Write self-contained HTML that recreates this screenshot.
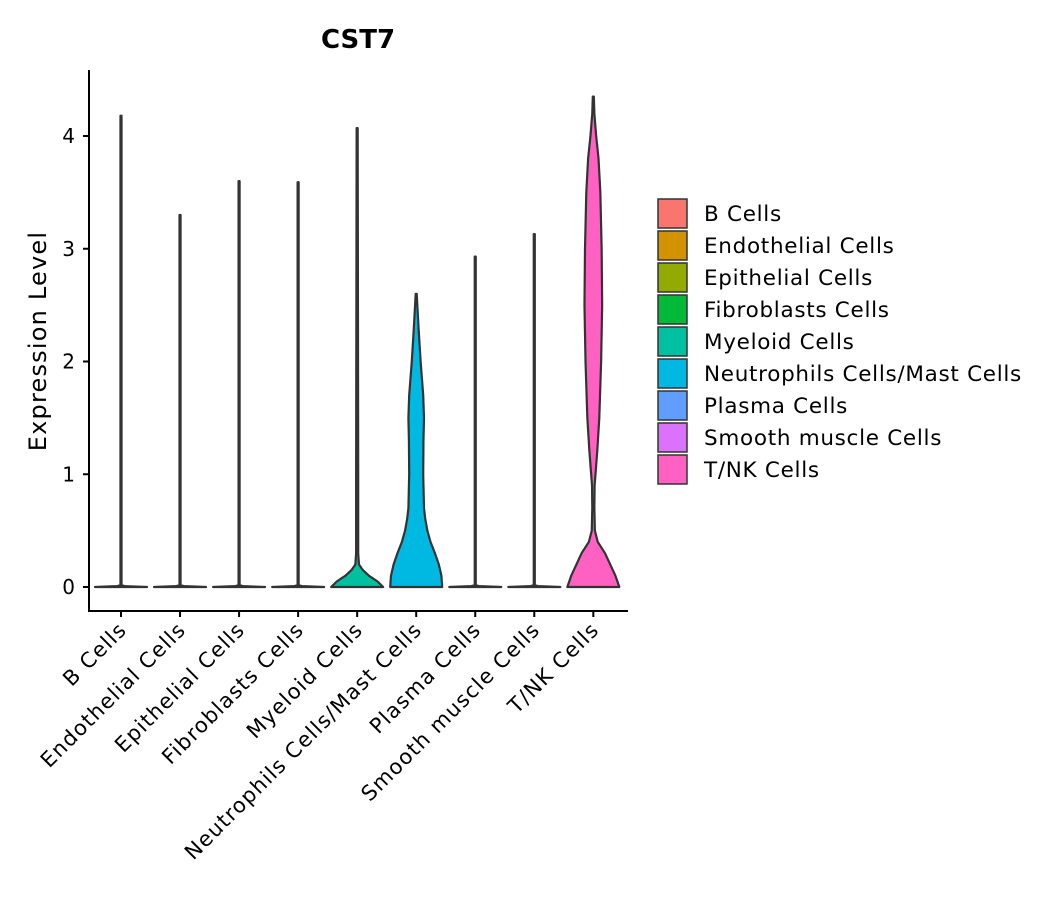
<!DOCTYPE html>
<html><head><meta charset="utf-8"><style>
body{margin:0;background:#fff;}
svg text{font-family:"DejaVu Sans","Liberation Sans",sans-serif;}
</style></head><body>
<svg id="chart" width="1057" height="900"></svg>
<script>
const categories=["B Cells","Endothelial Cells","Epithelial Cells","Fibroblasts Cells","Myeloid Cells","Neutrophils Cells/Mast Cells","Plasma Cells","Smooth muscle Cells","T/NK Cells"];
const colors=["#F8766D","#D39200","#93AA00","#00BA38","#00C19F","#00B9E3","#619CFF","#DB72FB","#FF61C3"];
const maxValues=[4.18,3.30,3.60,3.59,4.07,2.60,2.93,3.13,4.35];
const thinLevels=[0,0.008,0.015,1];
const thinDensity=[1,0.15,0.02,0.02];
const myeloidLevels=[0,0.05,0.1,0.15,0.2,0.3,1];
const myeloidDensity=[1,0.78,0.45,0.22,0.07,0.04,0.04];
const neutroLevels=[0,0.1,0.2,0.3,0.4,0.5,0.6,0.7,1.0,1.3,1.5,1.7,2.0,2.3,2.6];
const neutroDensity=[1,0.97,0.87,0.72,0.55,0.43,0.35,0.3,0.27,0.28,0.3,0.27,0.17,0.09,0.02];
const tnkLevels=[0,0.1,0.2,0.3,0.4,0.5,0.7,0.9,1.2,1.5,2.0,2.5,3.0,3.5,3.8,4.0,4.2,4.35];
const tnkDensity=[1,0.85,0.65,0.45,0.17,0.06,0.04,0.05,0.15,0.23,0.3,0.34,0.32,0.27,0.2,0.11,0.04,0.02];
const yTicks=[0,1,2,3,4];

const svg=document.getElementById('chart');
const NS='http://www.w3.org/2000/svg';
function mk(t,a,txt){const e=document.createElementNS(NS,t);for(const k in a)e.setAttribute(k,a[k]);if(txt!==undefined)e.textContent=txt;svg.appendChild(e);return e;}
const y0=587,pxPerUnit=112.75;
function yScale(v){return y0-v*pxPerUnit;}
function xScale(i){return 121+i*59.04;}
const halfMax=26;

function profile(i){
  if(i===4)return[myeloidLevels,myeloidDensity];
  if(i===5)return[neutroLevels,neutroDensity];
  if(i===8)return[tnkLevels,tnkDensity];
  return[thinLevels,thinDensity];
}
categories.forEach((c,i)=>{
  let [lv,dn]=profile(i);
  const mx=maxValues[i];
  const pts=[];
  for(let k=0;k<lv.length;k++){if(lv[k]<mx)pts.push([lv[k],dn[k]]);}
  pts.push([mx,Math.min(dn[dn.length-1],0.02)]);
  const cx=xScale(i);
  let d='M'+cx+','+yScale(0);
  pts.forEach(p=>{d+=' L'+(cx+p[1]*halfMax)+','+yScale(p[0]);});
  for(let k=pts.length-1;k>=0;k--){d+=' L'+(cx-pts[k][1]*halfMax)+','+yScale(pts[k][0]);}
  d+=' Z';
  const p=mk('path',{d:d,fill:colors[i],stroke:'#333','stroke-width':2.2,'stroke-linejoin':'round'});
  
  
});

mk('line',{x1:89,y1:70,x2:89,y2:612,stroke:'#000','stroke-width':2,});
mk('line',{x1:88,y1:611,x2:628,y2:611,stroke:'#000','stroke-width':2,});
yTicks.forEach(t=>{
  const y=yScale(t);
  const l=mk('line',{x1:83,y1:y,x2:89,y2:y,stroke:'#000','stroke-width':2});
  
  
  const tx=mk('text',{x:75,y:y+7,'text-anchor':'end','font-size':20,fill:'#000'},String(t));
  
  
});
categories.forEach((c,i)=>{
  const x=xScale(i);
  const l=mk('line',{x1:x,y1:611,x2:x,y2:617,stroke:'#000','stroke-width':2});
  
  
  const tx=mk('text',{x:x+7,y:631,'text-anchor':'end','font-size':21,'letter-spacing':1.2,fill:'#000',transform:'rotate(-45 '+(x+7)+' 631)'},c);
  
  
});
mk('text',{x:358,y:48,'text-anchor':'middle','font-size':26,'font-weight':'bold',fill:'#000',},'CST7');
mk('text',{x:46,y:341,'text-anchor':'middle','font-size':24,'letter-spacing':1.2,fill:'#000',transform:'rotate(-90 46 341)',},'Expression Level');

categories.forEach((c,i)=>{
  const y=199+i*32;
  const r=mk('rect',{x:658,y:y,width:29,height:29,fill:colors[i],stroke:'#333','stroke-width':1.5});
  
  
  const t=mk('text',{x:704,y:y+22,'font-size':21.5,'letter-spacing':0.7,fill:'#000'},c);
  
  
});
</script>
</body></html>
